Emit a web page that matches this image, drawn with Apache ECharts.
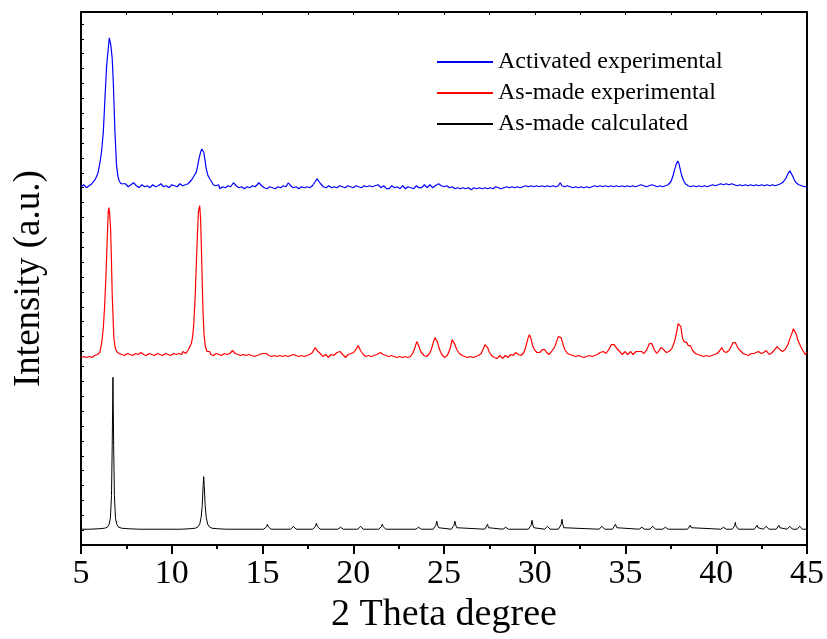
<!DOCTYPE html>
<html>
<head>
<meta charset="utf-8">
<script src="https://cdn.jsdelivr.net/npm/echarts@6/dist/echarts.min.js"></script>
<style>
  html, body { margin: 0; padding: 0; background: #fff; }
  #chart { width: 827px; height: 639px; }
</style>
</head>
<body>
<div id="chart"></div>
<script>
// Powder XRD patterns, 2θ (degree) vs. intensity (a.u., stacked with offsets)
const seriesNames = ['Activated experimental', 'As-made experimental', 'As-made calculated'];
const seriesColors = ['#0000ff', '#ff0000', '#000000'];
const xTicks = [5, 10, 15, 20, 25, 30, 35, 40, 45];

// Activated sample, measured pattern (offset to the top)
const activatedExp = [
  [5.0,361],[5.08,362],[5.15,363],[5.22,361],[5.3,360],[5.38,362],[5.45,362],[5.52,361],[5.6,364],[5.7,366],[5.8,369],[5.9,373],[5.95,376],[6.05,386],
  [6.13,396],[6.23,416],[6.32,450],[6.41,482],[6.5,500],[6.56,511],[6.6,510],[6.64,504],[6.68,502],[6.72,490],
  [6.78,466],[6.87,416],[6.96,382],[7.03,372],[7.1,367],[7.2,364],[7.3,362],
  [7.45,364],[7.52,362],[7.6,361],[7.68,363],[7.75,363],[7.82,361],[7.9,365],[7.98,363],[8.05,362],[8.12,364],[8.2,360],[8.28,362],[8.35,363],[8.42,361],[8.5,361],[8.58,363],[8.65,362],[8.72,361],[8.8,360],
  [8.88,362],[8.95,363],[9.02,361],[9.1,361],[9.18,363],[9.25,362],[9.32,360],[9.4,364],[9.48,362],[9.55,361],[9.62,363],[9.7,362],[9.78,361],[9.85,360],[9.92,362],[10.0,363],[10.08,361],[10.15,362],[10.22,364],[10.3,361],
  [10.38,363],[10.45,364],[10.52,362],[10.6,362],[10.68,364],[10.75,363],[10.82,362],[10.9,364],[11.0,366],
  [11.1,368],[11.2,371],[11.36,376],[11.5,389],[11.58,395],[11.65,399],[11.7,398],[11.76,396],[11.83,388],
  [11.9,379],[12.0,372],[12.09,369],[12.2,366],[12.28,363],[12.36,364],[12.43,362],
  [12.5,361],[12.58,363],[12.65,359],[12.72,361],[12.8,361],[12.88,359],[12.95,360],[13.02,362],[13.1,362],[13.18,360],[13.25,361],[13.32,363],[13.4,365],[13.48,363],[13.55,362],[13.62,360],[13.7,360],
  [13.78,362],[13.85,361],[13.92,359],[14.0,359],[14.08,361],[14.15,361],[14.22,359],[14.3,360],[14.38,362],[14.45,362],[14.52,360],[14.6,361],[14.7,362],[14.8,365],[14.88,363],[14.95,362],[15.02,361],[15.1,360],
  [15.18,361],[15.25,359],[15.32,361],[15.4,361],[15.48,359],[15.55,360],[15.62,361],[15.7,359],[15.78,360],[15.85,361],[15.92,359],[16.0,360],[16.08,361],[16.15,362],[16.22,360],[16.3,361],[16.36,363],[16.42,365],
  [16.48,363],[16.55,362],[16.62,360],[16.7,360],[16.78,362],[16.85,361],[16.92,359],[17.0,359],[17.08,361],[17.15,361],[17.22,359],[17.3,360],[17.38,362],[17.45,361],[17.52,360],[17.6,360],[17.68,361],[17.75,362],
  [17.9,366],[18.0,369],[18.1,367],[18.2,364],[18.28,362],[18.35,361],[18.42,359],[18.5,360],[18.58,361],[18.65,362],[18.72,360],[18.8,360],[18.88,362],[18.95,361],
  [19.02,359],[19.1,360],[19.18,361],[19.25,362],[19.32,360],[19.4,361],[19.48,359],[19.55,360],[19.62,362],[19.7,362],[19.78,360],[19.85,361],[19.92,359],[20.0,360],[20.08,361],[20.15,362],[20.22,360],[20.3,361],
  [20.38,359],[20.45,360],[20.52,362],[20.6,362],[20.68,360],[20.75,361],[20.82,363],[20.9,362],[20.98,360],[21.05,361],[21.12,363],[21.2,362],[21.3,364],[21.38,363],[21.45,362],[21.52,360],[21.6,361],
  [21.68,362],[21.75,360],[21.82,359],[21.9,361],[21.98,359],[22.05,360],[22.12,362],[22.2,361],[22.28,360],[22.35,359],[22.42,361],[22.5,361],[22.58,359],[22.65,360],[22.72,362],[22.8,361],[22.88,359],[22.95,360],
  [23.02,361],[23.1,362],[23.18,360],[23.25,361],[23.32,359],[23.4,360],[23.48,362],[23.55,361],[23.62,360],[23.7,362],[23.78,360],[23.85,361],[23.92,363],[24.0,362],[24.08,360],[24.15,361],[24.22,363],[24.3,362],
  [24.38,360],[24.45,361],[24.52,362],[24.6,363],[24.7,364],[24.78,362],[24.85,362],[24.92,360],[25.0,361],[25.08,363],[25.15,362],[25.22,360],[25.3,360],[25.38,362],[25.45,361],[25.52,359],[25.6,359],
  [25.68,361],[25.75,360],[25.82,358],[25.9,359],[25.98,361],[26.05,360],[26.12,358],[26.2,359],[26.28,361],[26.35,360],[26.42,358],[26.5,358],[26.58,360],[26.65,360],[26.72,358],[26.8,359],[26.88,361],[26.95,360],
  [27.02,358],[27.1,359],[27.18,361],[27.25,360],[27.32,358],[27.4,359],[27.48,361],[27.55,360],[27.62,358],[27.7,359],[27.78,360],[27.85,361],[27.92,359],[28.0,360],[28.08,361],[28.15,359],[28.22,358],[28.3,360],
  [28.38,362],[28.45,361],[28.52,359],[28.6,360],[28.68,362],[28.75,361],[28.82,359],[28.9,360],[28.98,362],[29.05,361],[29.12,359],[29.2,360],[29.28,362],[29.35,361],[29.42,360],[29.5,362],[29.58,363],[29.65,361],
  [29.72,360],[29.8,362],[29.88,363],[29.95,361],[30.02,360],[30.1,362],[30.18,363],[30.25,361],[30.32,360],[30.4,362],[30.48,363],[30.55,361],[30.62,360],[30.7,362],[30.78,363],[30.85,361],[30.92,360],[31.0,362],
  [31.08,363],[31.15,361],[31.22,360],[31.3,362],[31.4,365],[31.45,364],[31.5,362],[31.58,360],[31.65,361],[31.72,363],[31.8,362],[31.88,360],[31.95,361],[32.02,362],[32.1,360],[32.18,359],[32.25,361],
  [32.32,362],[32.4,360],[32.48,359],[32.55,361],[32.62,362],[32.7,360],[32.78,359],[32.85,361],[32.92,362],[33.0,360],[33.08,359],[33.15,361],[33.22,363],[33.3,362],[33.38,360],[33.45,361],[33.52,363],[33.6,362],
  [33.68,360],[33.75,361],[33.82,363],[33.9,362],[33.98,360],[34.05,361],[34.12,363],[34.2,362],[34.28,360],[34.35,361],[34.42,363],[34.5,362],[34.58,360],[34.65,361],[34.72,363],[34.8,362],[34.88,360],[34.95,361],
  [35.02,363],[35.1,362],[35.18,360],[35.25,361],[35.32,363],[35.4,362],[35.48,360],[35.55,361],[35.62,363],[35.7,362],[35.78,364],[35.85,363],[35.92,361],[36.0,362],[36.08,363],[36.15,361],[36.22,360],[36.3,362],
  [36.38,364],[36.45,363],[36.52,361],[36.6,362],[36.68,363],[36.75,361],[36.82,360],[36.9,362],[36.98,363],[37.05,361],[37.12,360],[37.2,362],[37.28,364],[37.35,363],[37.42,364],
  [37.5,366],[37.6,371],[37.7,378],[37.8,384],[37.88,387],[37.95,384],[38.02,378],[38.1,372],[38.2,367],
  [38.3,364],[38.38,363],[38.45,362],[38.52,360],
  [38.6,361],[38.68,363],[38.75,362],[38.82,360],[38.9,361],[38.98,363],[39.05,362],[39.12,360],[39.2,361],[39.28,363],[39.35,362],[39.42,360],[39.5,361],[39.58,363],[39.65,362],[39.72,361],[39.8,363],
  [39.88,364],[39.95,362],[40.02,361],[40.1,363],[40.18,365],[40.25,364],[40.32,362],[40.4,363],[40.48,365],[40.55,364],[40.62,362],[40.7,363],[40.78,365],[40.85,364],[40.92,362],[41.0,363],[41.08,364],[41.15,362],
  [41.22,361],[41.3,363],[41.38,364],[41.45,362],[41.52,361],[41.6,363],[41.68,364],[41.75,362],[41.82,361],[41.9,363],[41.98,364],[42.05,362],[42.12,361],[42.2,363],[42.28,364],[42.35,362],[42.42,361],[42.5,363],
  [42.58,364],[42.65,362],[42.72,361],[42.8,363],[42.88,364],[42.95,362],[43.02,361],[43.1,363],[43.18,364],[43.25,362],[43.32,362],[43.4,363],[43.48,365],[43.55,364],[43.62,365],[43.7,366],[43.78,368],[43.85,370],
  [43.95,374],[44.05,377],[44.12,376],[44.2,372],[44.3,368],[44.4,365],[44.48,364],[44.55,363],[44.62,361],[44.7,362],[44.78,363],[44.85,361],[44.92,360],
  [45.0,361]
];

// As-made sample, measured pattern (middle)
const asMadeExp = [
  [5.0,189],[5.08,191],[5.15,190],[5.22,188],[5.3,189],[5.38,191],[5.45,190],[5.52,188],[5.6,189],[5.68,191],[5.75,191],[5.82,190],[5.9,192],[6.04,194],[6.15,205],[6.23,219],
  [6.3,240],[6.37,269],[6.44,305],[6.5,336],[6.54,340],[6.58,333],[6.63,319],[6.68,285],[6.72,252],[6.77,228],
  [6.81,209],[6.88,199],[6.96,195],[7.03,194],[7.1,193],[7.18,195],[7.25,192],
  [7.32,194],[7.4,191],[7.48,193],[7.55,193],[7.62,191],[7.7,192],[7.78,194],[7.85,191],[7.92,193],[8.0,193],[8.08,191],[8.15,192],[8.22,194],[8.3,194],[8.38,192],[8.45,192],[8.52,194],[8.6,191],[8.68,193],
  [8.75,193],[8.82,191],[8.9,192],[8.98,194],[9.05,191],[9.12,193],[9.2,193],[9.28,191],[9.35,192],[9.42,194],[9.5,191],[9.58,193],[9.65,193],[9.72,191],[9.8,192],[9.88,194],[9.95,191],[10.02,193],
  [10.1,193],[10.18,191],[10.25,192],[10.32,194],[10.4,193],[10.48,191],[10.55,192],[10.62,195],[10.7,194],[10.78,193],[10.85,195],[10.92,197],[10.98,198],
  [11.08,203],[11.15,210],[11.21,222],[11.29,250],[11.36,286],[11.42,315],[11.47,336],[11.54,342],[11.59,328],
  [11.63,302],[11.68,265],[11.72,236],[11.78,212],[11.85,200],[11.94,195],[12.03,193],[12.09,195],
  [12.15,192],[12.22,194],[12.3,191],[12.38,193],[12.45,193],[12.52,191],[12.6,192],[12.68,194],[12.75,191],[12.82,193],[12.9,193],[12.98,191],[13.05,192],[13.12,194],[13.2,193],[13.28,195],[13.35,196],
  [13.42,195],[13.5,193],[13.58,191],[13.65,192],[13.72,193],[13.8,191],[13.88,193],[13.95,192],[14.02,190],[14.1,191],[14.18,193],[14.25,192],[14.32,190],[14.4,191],[14.48,192],[14.55,190],[14.62,192],[14.7,191],
  [14.78,190],[14.85,192],[14.92,194],[15.0,193],[15.1,194],[15.2,193],[15.28,192],[15.35,191],[15.42,189],[15.5,190],[15.58,192],[15.65,191],[15.72,189],[15.8,190],[15.88,192],[15.95,191],[16.02,189],
  [16.1,190],[16.18,192],[16.25,191],[16.32,189],[16.4,190],[16.48,192],[16.55,191],[16.62,190],[16.7,192],[16.78,190],[16.85,191],[16.92,189],[17.0,190],[17.08,192],[17.15,191],[17.22,189],[17.3,190],
  [17.38,192],[17.45,191],[17.52,190],[17.6,192],[17.68,193],[17.75,194],[17.82,196],[17.9,199],[17.95,198],[18.0,196],[18.05,197],[18.1,194],[18.18,193],[18.25,192],[18.32,190],[18.4,191],[18.48,192],[18.55,190],
  [18.62,189],[18.7,191],[18.78,192],[18.85,192],[18.92,191],[19.0,193],[19.1,194],[19.2,196],[19.28,195],[19.35,193],[19.42,192],[19.5,191],[19.58,189],[19.65,190],[19.72,192],[19.8,191],[19.88,193],[19.95,192],
  [20.02,194],[20.1,195],[20.18,198],[20.27,201],[20.33,199],[20.4,196],[20.48,194],[20.55,192],[20.62,191],[20.7,190],[20.78,192],[20.85,191],[20.92,189],[21.0,190],[21.08,192],[21.15,191],[21.22,190],[21.3,192],
  [21.4,193],[21.5,194],[21.58,193],[21.65,192],[21.72,190],[21.8,191],[21.88,189],[21.95,190],[22.02,191],[22.1,191],[22.18,189],[22.25,190],[22.32,188],[22.4,189],[22.48,191],[22.55,190],[22.62,188],[22.7,189],
  [22.78,191],[22.85,190],[22.92,188],[23.0,189],[23.08,191],[23.15,190],[23.22,192],[23.3,194],[23.4,199],[23.5,205],[23.55,204],[23.6,201],[23.68,197],[23.75,194],[23.82,192],[23.9,191],[23.98,189],
  [24.05,190],[24.12,191],[24.2,193],[24.28,196],[24.35,200],[24.42,205],[24.5,209],[24.56,210],[24.6,208],[24.65,204],[24.72,199],[24.8,195],[24.88,192],[24.95,191],[25.02,189],[25.1,190],[25.18,191],
  [25.25,193],[25.32,197],[25.4,203],[25.45,207],[25.5,208],[25.55,205],[25.58,203],[25.64,200],[25.7,197],[25.78,196],[25.85,193],[25.92,192],[26.0,191],[26.08,189],[26.15,190],[26.22,191],[26.3,189],[26.38,188],
  [26.45,190],[26.52,191],[26.6,189],[26.68,188],[26.75,190],[26.82,192],[26.9,191],[26.98,192],[27.05,193],[27.12,196],[27.2,199],[27.25,202],[27.3,203],[27.35,201],[27.4,199],[27.48,195],[27.55,193],
  [27.62,191],[27.7,191],[27.78,189],[27.85,190],[27.92,188],[28.0,189],[28.08,191],[28.15,190],[28.22,188],[28.3,189],[28.38,191],[28.45,190],[28.52,189],[28.6,191],[28.68,192],[28.75,190],[28.82,191],
  [28.9,192],[28.95,194],[29.0,193],[29.05,194],[29.1,192],[29.18,190],[29.25,191],[29.32,192],[29.4,194],[29.48,198],[29.55,203],[29.62,208],[29.7,212],[29.74,211],[29.78,209],[29.84,204],[29.9,200],[29.98,197],
  [30.05,195],[30.12,194],[30.2,193],[30.28,194],[30.35,195],[30.42,197],[30.5,198],[30.55,197],[30.6,196],[30.65,194],[30.7,193],[30.78,192],[30.85,194],[30.92,195],[31.0,197],[31.08,199],[31.15,202],
  [31.22,206],[31.3,210],[31.35,211],[31.4,212],[31.45,209],[31.5,206],[31.58,201],[31.65,197],[31.72,195],[31.8,193],[31.88,194],[31.95,192],[32.02,191],[32.1,191],[32.18,189],[32.25,190],[32.32,192],[32.4,191],
  [32.48,189],[32.55,190],[32.62,191],[32.7,189],[32.78,188],[32.85,190],[32.92,192],[33.0,191],[33.08,189],[33.15,190],[33.22,192],[33.3,191],[33.38,193],[33.45,192],[33.52,193],[33.6,194],[33.65,196],
  [33.7,196],[33.78,195],[33.85,194],[33.92,193],[34.0,195],[34.08,197],[34.15,199],[34.22,202],[34.3,203],[34.38,202],[34.45,200],[34.52,198],[34.6,196],[34.68,195],[34.75,194],[34.82,192],[34.9,193],
  [34.98,195],[35.05,194],[35.12,192],[35.2,193],[35.28,195],[35.35,194],[35.42,192],[35.5,193],[35.58,195],[35.65,194],[35.72,195],[35.8,196],[35.88,195],[35.95,194],[36.02,193],[36.1,195],[36.18,197],
  [36.25,199],[36.32,203],[36.4,205],[36.45,203],[36.5,201],[36.58,197],[36.65,195],[36.72,193],[36.8,194],[36.85,196],[36.9,197],[36.95,199],[37.0,200],[37.05,199],[37.1,197],[37.18,195],[37.25,194],
  [37.32,193],[37.4,195],[37.48,196],[37.55,198],[37.62,201],[37.7,205],[37.78,211],[37.85,218],[37.9,223],[37.95,225],[38.0,224],[38.05,220],[38.1,214],[38.15,208],[38.22,205],[38.3,203],[38.38,204],
  [38.45,201],[38.5,202],[38.57,201],[38.63,199],[38.7,196],[38.78,194],[38.85,193],[38.92,191],[39.0,192],[39.08,190],[39.15,191],[39.22,189],[39.3,190],[39.38,192],[39.45,191],[39.52,189],[39.6,190],
  [39.68,192],[39.75,191],[39.82,190],[39.9,192],[39.98,194],[40.05,193],[40.12,195],[40.2,196],[40.25,198],[40.3,199],[40.36,197],[40.42,195],[40.48,193],[40.55,194],[40.62,195],[40.7,196],[40.78,198],
  [40.85,201],[40.92,204],[41.0,206],[41.05,204],[41.1,202],[41.18,199],[41.25,197],[41.32,196],[41.4,195],[41.48,193],[41.55,194],[41.62,192],[41.7,193],[41.78,191],[41.85,192],[41.92,193],[42.0,194],
  [42.08,193],[42.15,195],[42.2,194],[42.25,196],[42.32,195],[42.4,194],[42.48,193],[42.55,195],[42.62,194],[42.7,195],[42.75,196],[42.8,195],[42.85,194],[42.92,192],[43.0,193],[43.08,194],[43.15,195],
  [43.22,197],[43.28,199],[43.35,200],[43.42,199],[43.5,197],[43.58,196],[43.65,195],[43.72,196],[43.8,197],[43.88,199],[43.95,202],[44.02,206],[44.1,210],[44.18,214],[44.25,218],[44.3,219],[44.35,217],
  [44.42,212],[44.5,206],[44.58,203],[44.65,200],[44.72,198],[44.8,195],[44.85,193],[44.9,192],[44.95,193],[45.0,194]
];

// As-made structure, simulated pattern (bottom)
const asMadeCalc = [
  [5.0,16],[5.5,16],[6.0,16.5],[6.3,17],[6.45,18],[6.55,21],[6.62,27],[6.68,50],[6.72,100],[6.76,169],
  [6.8,100],[6.84,50],[6.9,27],[6.97,21],[7.07,18],[7.25,17],[7.6,16.5],[8.2,16],[9.5,16],[10.5,16],
  [11.0,16.5],[11.3,17],[11.45,18.5],[11.54,21],[11.62,28],[11.68,40],[11.73,60],[11.76,69],[11.79,60],
  [11.84,40],[11.9,28],[11.98,21],[12.07,18.5],[12.22,17],[12.5,16.5],[13.0,16],
  [15.07,16],[15.17,17],[15.22,18.5],[15.27,21],[15.32,18.5],[15.37,17],[15.47,16],
  [16.55,16],[16.65,17],[16.7,19],[16.75,17],[16.85,16],
  [17.77,16],[17.87,17],[17.92,19],[17.97,22],[18.02,19],[18.07,17],[18.17,16],
  [19.15,16],[19.25,16.8],[19.3,18],[19.35,16.8],[19.45,16],
  [20.25,16],[20.35,17],[20.4,19],[20.45,17],[20.55,16],
  [21.4,16],[21.5,17],[21.55,18.5],[21.6,21],[21.65,18.5],[21.7,17],[21.8,16],
  [23.45,16],[23.55,16.8],[23.6,18],[23.65,16.8],[23.75,16],
  [24.4,16],[24.5,17.5],[24.55,20],[24.6,24],[24.65,20],[24.7,17.5],[24.8,16],
  [25.4,16],[25.5,17.5],[25.55,20],[25.6,24],[25.65,20],[25.7,17.5],[25.8,16],
  [27.25,16],[27.35,17.5],[27.4,21],[27.45,17.5],[27.55,16],
  [28.25,16],[28.35,16.8],[28.4,18],[28.45,16.8],[28.55,16],
  [29.65,16],[29.75,17.5],[29.8,20],[29.85,25],[29.9,20],[29.95,17.5],[30.05,16],
  [30.55,16],[30.65,17],[30.7,19],[30.75,17],[30.85,16],
  [31.3,16],[31.4,17.5],[31.45,20.5],[31.5,26],[31.55,20.5],[31.6,17.5],[31.7,16],
  [33.55,16],[33.65,17],[33.7,19],[33.75,17],[33.85,16],
  [34.28,16],[34.38,17.5],[34.45,21],[34.52,17.5],[34.62,16],
  [35.75,16],[35.85,16.8],[35.9,18],[35.95,16.8],[36.05,16],
  [36.35,16],[36.45,17],[36.5,19],[36.55,17],[36.65,16],
  [37.05,16],[37.15,16.8],[37.2,18],[37.25,16.8],[37.35,16],
  [38.42,16],[38.52,17.5],[38.57,20],[38.62,17.5],[38.72,16],
  [40.25,16],[40.35,16.8],[40.4,18],[40.45,16.8],[40.55,16],
  [40.88,16],[40.98,17.5],[41.02,19.5],[41.05,23],[41.08,19.5],[41.12,17.5],[41.22,16],
  [42.1,16],[42.2,17.5],[42.25,20],[42.3,17.5],[42.4,16],
  [42.6,16],[42.7,17],[42.75,19],[42.8,17],[42.9,16],
  [43.3,16],[43.4,17.5],[43.45,20],[43.5,17.5],[43.6,16],
  [43.9,16],[44.0,17],[44.05,19],[44.1,17],[44.2,16],
  [44.45,16],[44.55,17],[44.6,19],[44.65,17],[44.75,16],
  [45.0,16]
];

const FONT = '"Liberation Serif", "Times New Roman", serif';
const chart = echarts.init(document.getElementById('chart'), null, { renderer: 'canvas' });

chart.setOption({
  animation: false,
  backgroundColor: '#ffffff',
  color: seriesColors,
  grid: { left: 81, right: 18, top: 12, bottom: 90, containLabel: false },
  legend: {
    data: seriesNames,
    orient: 'vertical',
    left: 432,
    top: 45,
    itemWidth: 56,
    itemHeight: 2,
    itemGap: 7,
    icon: 'rect',
    textStyle: { fontFamily: FONT, fontSize: 24, color: '#000', lineHeight: 24 }
  },
  xAxis: [
    {
      type: 'value', position: 'bottom', min: xTicks[0], max: xTicks[xTicks.length - 1], interval: 5,
      name: '2 Theta degree', nameLocation: 'middle', nameGap: 46,
      nameTextStyle: { fontFamily: FONT, fontSize: 38, color: '#000' },
      axisLine: { show: true, onZero: false, lineStyle: { color: '#000', width: 2 } },
      axisTick: { show: true, inside: false, length: 9, lineStyle: { color: '#000', width: 2 } },
      minorTick: { show: true, splitNumber: 2, length: 4, lineStyle: { color: '#000', width: 2 } },
      axisLabel: { show: true, margin: 12, fontFamily: FONT, fontSize: 34, color: '#000' },
      splitLine: { show: false }
    },
    {
      type: 'value', position: 'top', min: 5, max: 45, interval: 2.5,
      axisLine: { show: true, onZero: false, lineStyle: { color: '#000', width: 2 } },
      axisTick: { show: true, inside: true, length: 3, lineStyle: { color: '#000', width: 1 } },
      axisLabel: { show: false },
      splitLine: { show: false }
    }
  ],
  yAxis: [
    {
      type: 'value', position: 'left', min: 0, max: 537, interval: 15,
      name: 'Intensity (a.u.)', nameLocation: 'middle', nameGap: 33, nameRotate: 90,
      nameTextStyle: { fontFamily: FONT, fontSize: 37, color: '#000' },
      axisLine: { show: true, onZero: false, lineStyle: { color: '#000', width: 2 } },
      axisTick: { show: true, inside: true, length: 3, lineStyle: { color: '#000', width: 1 } },
      axisLabel: { show: false },
      splitLine: { show: false }
    },
    {
      type: 'value', position: 'right', min: 0, max: 537,
      axisLine: { show: true, onZero: false, lineStyle: { color: '#000', width: 2 } },
      axisTick: { show: false },
      axisLabel: { show: false },
      splitLine: { show: false }
    }
  ],
  series: [
    { name: seriesNames[0], type: 'line', data: activatedExp, showSymbol: false, symbol: 'none',
      lineStyle: { width: 1.2, color: seriesColors[0] }, xAxisIndex: 0, yAxisIndex: 0 },
    { name: seriesNames[1], type: 'line', data: asMadeExp, showSymbol: false, symbol: 'none',
      lineStyle: { width: 1.2, color: seriesColors[1] }, xAxisIndex: 0, yAxisIndex: 0 },
    { name: seriesNames[2], type: 'line', data: asMadeCalc, showSymbol: false, symbol: 'none',
      lineStyle: { width: 1, color: seriesColors[2] }, xAxisIndex: 0, yAxisIndex: 0 }
  ]
});
</script>
</body>
</html>
